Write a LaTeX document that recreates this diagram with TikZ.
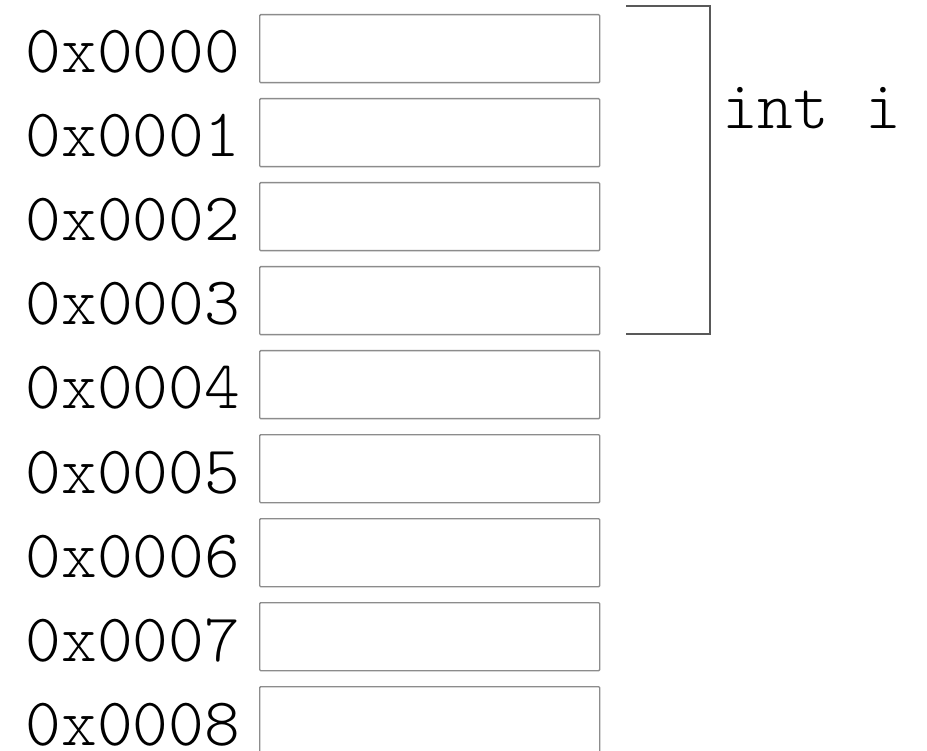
\documentclass[tikz,border=0pt]{standalone}
\usepackage{fontspec}
\setmonofont{Latin Modern Mono Light}
\begin{document}
\begin{tikzpicture}[x=1pt,y=-1pt,
  cell/.style={draw=black!45, line width=1.4pt, rounded corners=1pt, minimum width=340pt, minimum height=68pt, inner sep=0pt, anchor=north west},
  addr/.style={font=\ttfamily\fontsize{68}{68}\selectfont, anchor=base east, inner sep=0pt},
  brk/.style={draw=black!65, line width=1.8pt}]
\useasboundingbox (0,0) rectangle (927,751);
\clip (0,0) rectangle (927,751);
\foreach \i in {0,...,8} {
  \node[cell] (b\i) at (259,{14+84*\i}) {};
  \node[addr] (a\i) at (240,{73+84*\i}) {0x000\i};
}
\coordinate (t1) at (626,6);
\coordinate (t2) at (710,6);
\coordinate (t3) at (710,334);
\coordinate (t4) at (626,334);
\draw[brk] (t1) -- (t2) -- (t3) -- (t4);
\node[addr, anchor=base west] (lbl) at (722,129) {int i};
\end{tikzpicture}
\end{document}
